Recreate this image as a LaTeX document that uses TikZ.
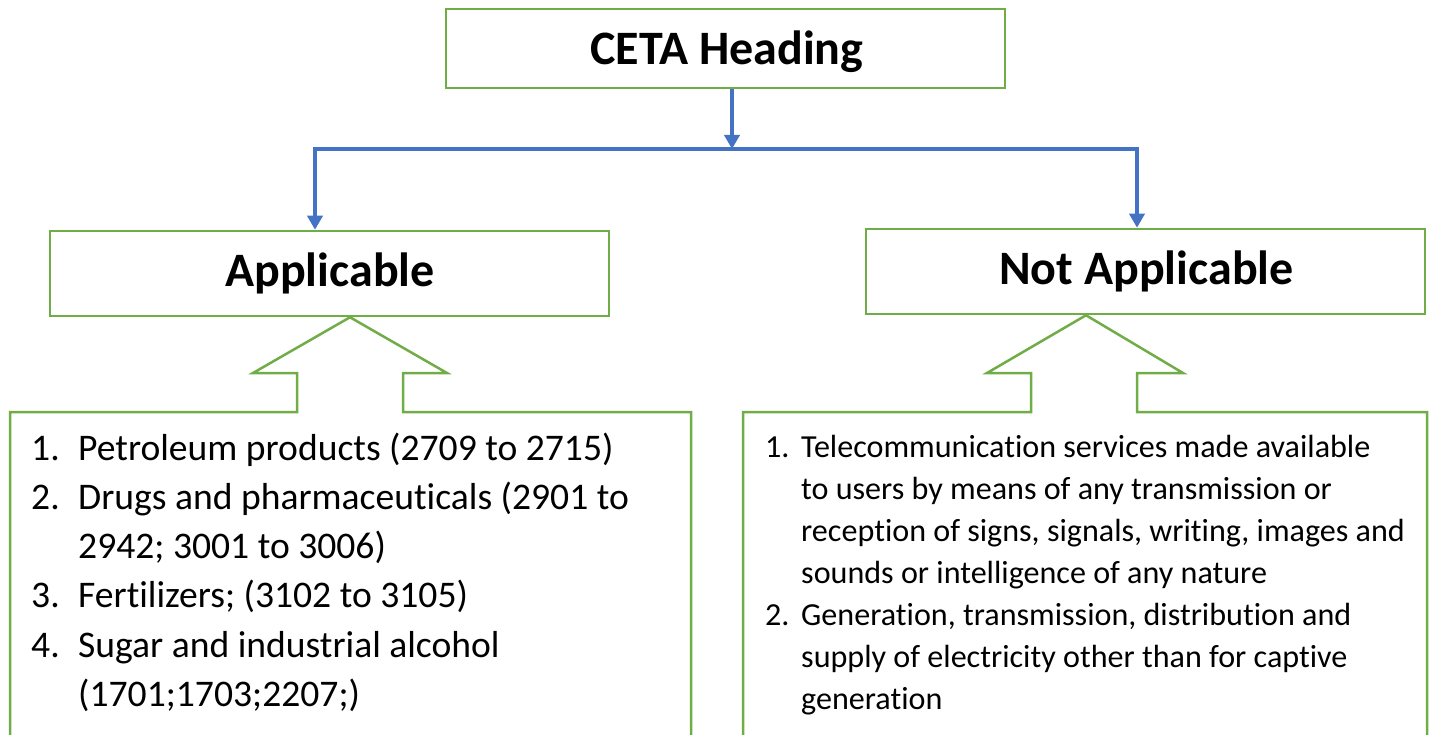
\documentclass[tikz,border=0pt]{standalone}
\usepackage{fontspec}
\setmainfont[Ligatures=NoCommon]{Carlito}
\usetikzlibrary{arrows.meta,calc}
\definecolor{boxgreen}{HTML}{70AD47}
\definecolor{flowblue}{HTML}{4472C4}
\tikzset{
  hbox/.style={draw=boxgreen, line width=2.5pt, inner sep=0pt},
  htext/.style={anchor=base, inner sep=0pt, font=\fontsize{48}{58}\selectfont\bfseries},
  flow/.style={draw=flowblue, line width=3.5pt, -{Triangle[length=14pt,width=15pt]}},
  outline/.style={draw=boxgreen, line width=2.5pt, line join=miter},
  itemlist/.style={anchor=base west, inner sep=0pt}
}
\begin{document}
\begin{tikzpicture}[x=1pt,y=-1pt]
\useasboundingbox (0,0) rectangle (1430,735);

% heading boxes
\node[hbox, minimum width=559pt, minimum height=79pt] (ceta) at (725.5,48.5) {};
\node[hbox, minimum width=559pt, minimum height=85pt] (app) at (329.5,273.5) {};
\node[hbox, minimum width=559pt, minimum height=85pt] (nap) at (1145.5,271.5) {};

\node[htext] (cetat) at ($(ceta.center)+(1.5,16.5)$) {CETA Heading};
\node[htext] (appt) at ($(app.center)+(0.5,13.5)$) {Applicable};
\node[htext] (napt) at ($(nap.center)+(1,13.5)$) {Not Applicable};

% blue branching connectors
\coordinate (jm) at (732,149);
\coordinate (jl) at (315,149);
\coordinate (jr) at (1137,149);
\draw[flow] (ceta.south -| jm) -- (jm);
\draw[flow] (jm) -| (jl |- app.north);
\draw[flow] (jm) -| (jr |- nap.north);

% open list boxes with block arrows pointing up
\draw[outline] (10,740) -- (10,412) -- (297,412) -- (297,373) -- (253,373)
  -- (app.south -| 350,0) -- (447,373) -- (403,373) -- (403,412) -- (691,412) -- (691,740);
\draw[outline] (743,740) -- (743,412) -- (1031,412) -- (1031,373) -- (987,373)
  -- (nap.south -| 1086,0) -- (1183,373) -- (1137,373) -- (1137,412) -- (1427,412) -- (1427,740);

% list of applicable items
\node[itemlist] (applist) at (31,460) {\parbox[t]{660pt}{\fontsize{37.6}{49.3}\selectfont
\makebox[47pt][l]{1.}Petroleum products (2709 to 2715)\\
\makebox[47pt][l]{2.}Drugs and pharmaceuticals (2901 to\\
\hspace*{47pt}2942; 3001 to 3006)\\
\makebox[47pt][l]{3.}Fertilizers; (3102 to 3105)\\
\makebox[47pt][l]{4.}Sugar and industrial alcohol\\
\hspace*{47pt}(1701;1703;2207;)}};

% list of items not covered
\node[itemlist] (naplist) at (765,457) {\parbox[t]{660pt}{\fontsize{32.1}{42}\selectfont
\makebox[36pt][l]{1.}Telecommunication services made available\\
\hspace*{36pt}to users by means of any transmission or\\
\hspace*{36pt}reception of signs, signals, writing, images and\\
\hspace*{36pt}sounds or intelligence of any nature\\
\makebox[36pt][l]{2.}Generation, transmission, distribution and\\
\hspace*{36pt}supply of electricity other than for captive\\
\hspace*{36pt}generation}};
\end{tikzpicture}
\end{document}
